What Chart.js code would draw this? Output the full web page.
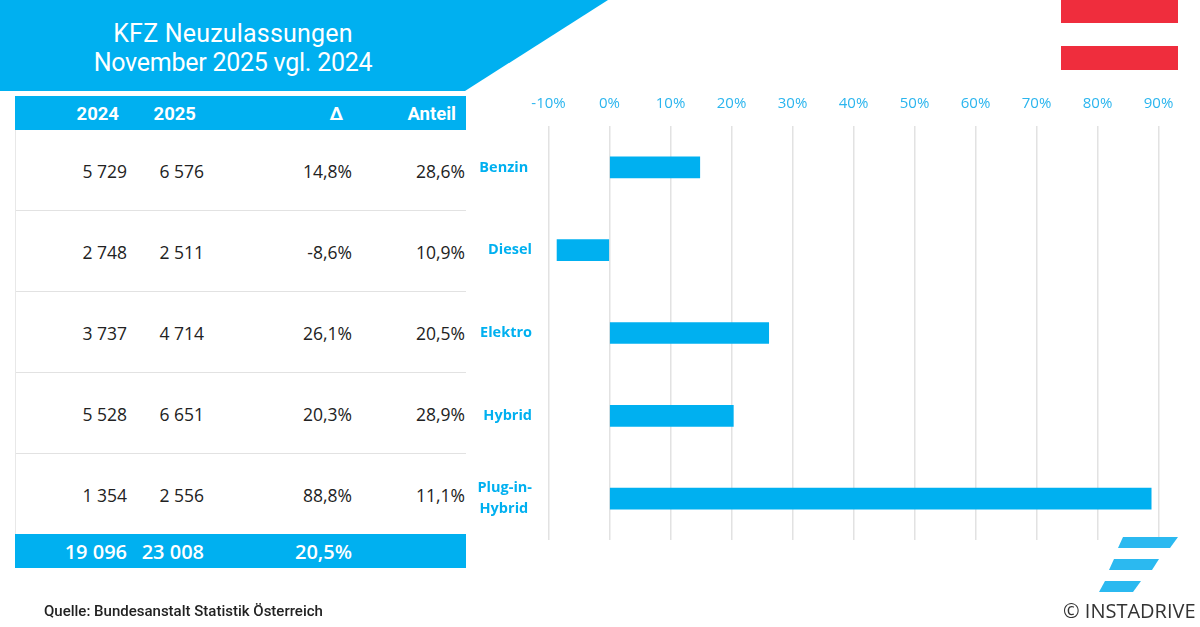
<!DOCTYPE html>
<html lang="de">
<head>
<meta charset="utf-8">
<title>KFZ Neuzulassungen November 2025</title>
<script src="https://cdn.jsdelivr.net/npm/chart.js@4/dist/chart.umd.min.js"></script>
<style>
  html, body { margin: 0; padding: 0; background: #fff; }
  #page { position: relative; width: 1200px; height: 627px; overflow: hidden; }
  #page > * { position: absolute; }
  #chart { left: 0; top: 0; }
  #banner { left: 0; top: 0; width: 608px; height: 91px; background: #00b0f0;
    clip-path: polygon(0 0, 100% 0, 465px 100%, 0 100%); }
  #title { left: 0; top: 19px; width: 466px; text-align: center; color: #fff;
    font: 400 25px/29px Roboto, sans-serif; }
  .flag { left: 1061px; width: 117px; height: 24px; background: #ef2d3d; }
  #table { left: 15px; top: 96px; width: 451px; height: 472px; border-left: 1px solid #e8e8e8; box-sizing: border-box; }
  .row { position: absolute; left: -1px; right: 0; }
  .row span { position: absolute; white-space: nowrap; }
  .head, .foot { background: #00b0f0; color: #fff; }
  .head { font: 700 18.5px Roboto, sans-serif; }
  .body { left: 0; border-bottom: 1px solid #e2e2e2; color: #222; font: 400 17.5px "Open Sans", sans-serif; box-sizing: border-box; }
  .body.last { border-bottom: none; }
  .foot { font: 600 20px "Open Sans", sans-serif; }
  #source { left: 44px; top: 602px; font: 500 15px Roboto, sans-serif; color: #222; }
  #copy { left: 1063px; top: 597px; font: 400 20px "Open Sans", sans-serif; color: #333; white-space: nowrap; }
  #logo { left: 1090px; top: 530px; }
</style>
</head>
<body>
<div id="page">
  <div id="banner"></div>
  <div id="title"><span style="letter-spacing:0.2px">KFZ Neuzulassungen</span><br><span style="letter-spacing:-0.25px">November 2025 vgl. 2024</span></div>
  <div class="flag" style="top:-1px"></div>
  <div class="flag" style="top:46px"></div>
  <div id="table"></div>
  <canvas id="chart" width="1200" height="627"></canvas>
  <svg id="logo" width="100" height="70" fill="#2bb9f0">
    <polygon points="28,18 33,7 88,7 80,18"/>
    <polygon points="19,40 24,29 69,29 62,40"/>
    <polygon points="9,62 15,51 51,51 43,62"/>
  </svg>
  <div id="source">Quelle: Bundesanstalt Statistik Österreich</div>
  <div id="copy">© INSTADRIVE</div>
</div>
<script>
// Daten
const categories = ['Benzin\u00a0', 'Diesel', 'Elektro', 'Hybrid', ['Plug-in-', 'Hybrid\u00a0']];
const values2024 = ['5 729', '2 748', '3 737', '5 528', '1 354'];
const values2025 = ['6 576', '2 511', '4 714', '6 651', '2 556'];
const deltas = [14.8, -8.6, 26.1, 20.3, 88.8];
const shares = ['28,6%', '10,9%', '20,5%', '28,9%', '11,1%'];
const headers = ['2024', '2025', 'Δ', 'Anteil'];
const totals = ['19 096', '23 008', '20,5%'];
const tickValues = [-10, 0, 10, 20, 30, 40, 50, 60, 70, 80, 90];

const formatDelta = (v) => v.toFixed(1).replace('.', ',') + '%';

// Tabelle links
const buildTable = () => {
    const table = document.getElementById('table');
    const addRow = (cls, top, height, cells, rights, textTop) => {
        const row = document.createElement('div');
        row.className = 'row ' + cls;
        row.style.top = top + 'px';
        row.style.height = height + 'px';
        cells.forEach((text, i) => {
            const s = document.createElement('span');
            s.textContent = text.replace(' ', '\u00a0');
            s.style.right = (450 - rights[i]) + 'px';
            s.style.top = textTop + 'px';
            row.appendChild(s);
        });
        table.appendChild(row);
    };
    addRow('head', 0, 34, headers, [103, 180, 327, 440], 7);
    categories.forEach((c, i) => {
        const cells = [values2024[i], values2025[i], formatDelta(deltas[i]), shares[i]];
        const top = 34 + i * 81;
        addRow(i === 4 ? 'body last' : 'body', top, i === 4 ? 70 : 81, cells, [111, 188, 336, 449], 29);
    });
    addRow('foot', 438, 34, totals, [111, 188, 336], 4);
};

// Balkendiagramm
const initChart = () => {
    const ctx = document.getElementById('chart').getContext('2d');
    new Chart(ctx, {
        type: 'bar',
        data: {
            labels: categories,
            datasets: [{
                data: deltas,
                backgroundColor: '#00b0f0',
                barThickness: 21
            }]
        },
        options: {
            indexAxis: 'y',
            responsive: false,
            animation: false,
            layout: { padding: { left: 466.5, top: 96, right: 41.5, bottom: 87 } },
            plugins: { legend: { display: false }, tooltip: { enabled: false } },
            scales: {
                x: {
                    position: 'top',
                    min: -10,
                    max: 90,
                    afterFit: (scale) => { scale.height = 30; },
                    afterBuildTicks: (scale) => { scale.ticks = tickValues.map(v => ({ value: v })); },
                    border: { display: false },
                    grid: { color: '#e2e2e2', lineWidth: 1.5, drawTicks: false },
                    ticks: {
                        color: '#2bb5ee',
                        padding: 13,
                        maxRotation: 0,
                        font: { family: '"Open Sans"', size: 15 },
                        callback: (v) => v + '%'
                    }
                },
                y: {
                    afterFit: (scale) => { scale.width = 82; },
                    border: { display: false },
                    grid: { display: false, drawTicks: false },
                    ticks: {
                        color: '#00b0f0',
                        padding: 16.5,
                        font: { family: '"Open Sans"', size: 14.5, weight: '700', lineHeight: 1.45 }
                    }
                }
            }
        }
    });
};

buildTable();
initChart();
</script>
</body>
</html>
